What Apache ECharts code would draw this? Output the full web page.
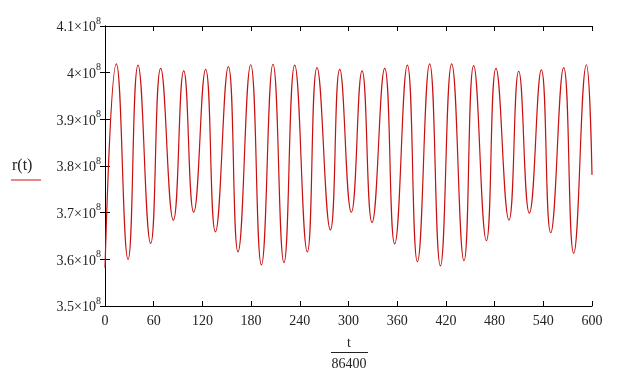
<!DOCTYPE html>
<html>
<head>
<meta charset="utf-8">
<script src="https://cdn.jsdelivr.net/npm/echarts@6/dist/echarts.min.js"></script>
<style>
html,body{margin:0;padding:0;background:#fff;}
#main{width:622px;height:379px;}
</style>
</head>
<body>
<div id="main"></div>
<script>
// t/86400 in days, read at the peaks and troughs of the plot
var tDays = [0, 14.0, 28.4, 40.7, 56.3, 68.6, 84.2, 97.0, 109.3, 124.0, 136.0, 152.0, 163.9, 179.5, 192.7,
    207.0, 220.5, 233.7, 249.3, 261.2, 277.7, 289.2, 303.5, 316.7, 329.0, 344.6, 356.9, 372.5, 384.9,
    400.0, 413.2, 427.1, 442.3, 454.2, 469.9, 481.7, 497.7, 509.7, 522.8, 537.6, 549.1, 565.1, 577.4, 593.1, 600];
// r(t) in units of 1e8
var rVals = [3.582, 4.019, 3.600, 4.016, 3.634, 4.009, 3.684, 4.004, 3.701, 4.007, 3.659, 4.013, 3.616, 4.017, 3.588,
    4.018, 3.593, 4.016, 3.616, 4.011, 3.663, 4.007, 3.701, 4.004, 3.679, 4.009, 3.633, 4.016, 3.595,
    4.019, 3.586, 4.019, 3.597, 4.015, 3.640, 4.009, 3.684, 4.003, 3.699, 4.006, 3.657, 4.011, 3.613, 4.017, 3.781];
var xTicks = [0, 60, 120, 180, 240, 300, 360, 420, 480, 540, 600];
var yTicks = [3.5, 3.6, 3.7, 3.8, 3.9, 4.0, 4.1];

var data = [];
for (var i = 0; i < tDays.length; i++) {
    data.push([tDays[i], rVals[i]]);
}

var serif = '"Liberation Serif", "DejaVu Serif", serif';
var lineRed = '#c81010';

var option = {
    animation: false,
    grid: {left: 105, right: 30, top: 26, bottom: 73},
    xAxis: [{
        type: 'value',
        min: xTicks[0],
        max: xTicks[xTicks.length - 1],
        interval: 60,
        axisLine: {lineStyle: {color: '#000', width: 1}},
        axisTick: {inside: true, length: 5, lineStyle: {color: '#000'}},
        axisLabel: {color: '#222', fontFamily: serif, fontSize: 14, margin: 8},
        splitLine: {show: false}
    }, {
        type: 'value',
        position: 'top',
        min: xTicks[0],
        max: xTicks[xTicks.length - 1],
        interval: 60,
        axisLine: {lineStyle: {color: '#000', width: 1}},
        axisTick: {inside: true, length: 5, lineStyle: {color: '#000'}},
        axisLabel: {show: false},
        splitLine: {show: false}
    }],
    yAxis: [{
        type: 'value',
        min: yTicks[0],
        max: yTicks[yTicks.length - 1],
        interval: 0.1,
        axisLine: {show: true, lineStyle: {color: '#000', width: 1}},
        axisTick: {show: true, inside: true, length: 5, lineStyle: {color: '#000'}},
        axisLabel: {
            margin: 4,
            formatter: function (v) {
                return '{a|' + parseFloat(v.toFixed(1)) + '×10}{s|8}';
            },
            rich: {
                a: {color: '#222', fontFamily: serif, fontSize: 14, lineHeight: 16, padding: [3, 0, 0, 0], verticalAlign: 'middle'},
                s: {color: '#222', fontFamily: serif, fontSize: 10, lineHeight: 10, padding: [0, 0, 10, 0], verticalAlign: 'middle'}
            }
        },
        splitLine: {show: false}
    }, {
        type: 'value',
        position: 'right',
        min: yTicks[0],
        max: yTicks[yTicks.length - 1],
        interval: 0.1,
        axisLine: {show: true, lineStyle: {color: '#000', width: 1}},
        axisTick: {show: true, inside: true, length: 5, lineStyle: {color: '#000'}},
        axisLabel: {show: false},
        splitLine: {show: false}
    }],
    series: [{
        type: 'line',
        data: data,
        smooth: 0.5,
        symbol: 'none',
        lineStyle: {color: lineRed, width: 1.2}
    }],
    graphic: [
        {type: 'text', left: 12, top: 158, style: {text: 'r(t)', font: '16px ' + serif, fill: '#222'}},
        {type: 'line', shape: {x1: 11, y1: 180, x2: 41, y2: 180}, style: {stroke: lineRed, lineWidth: 1}},
        {type: 'text', x: 349, y: 343, style: {text: 't', font: '14px ' + serif, fill: '#222', align: 'center', verticalAlign: 'middle'}},
        {type: 'line', shape: {x1: 331, y1: 352.5, x2: 368, y2: 352.5}, style: {stroke: '#222', lineWidth: 1}},
        {type: 'text', x: 349, y: 364, style: {text: '86400', font: '14px ' + serif, fill: '#222', align: 'center', verticalAlign: 'middle'}}
    ]
};

echarts.init(document.getElementById('main')).setOption(option);
</script>
</body>
</html>
